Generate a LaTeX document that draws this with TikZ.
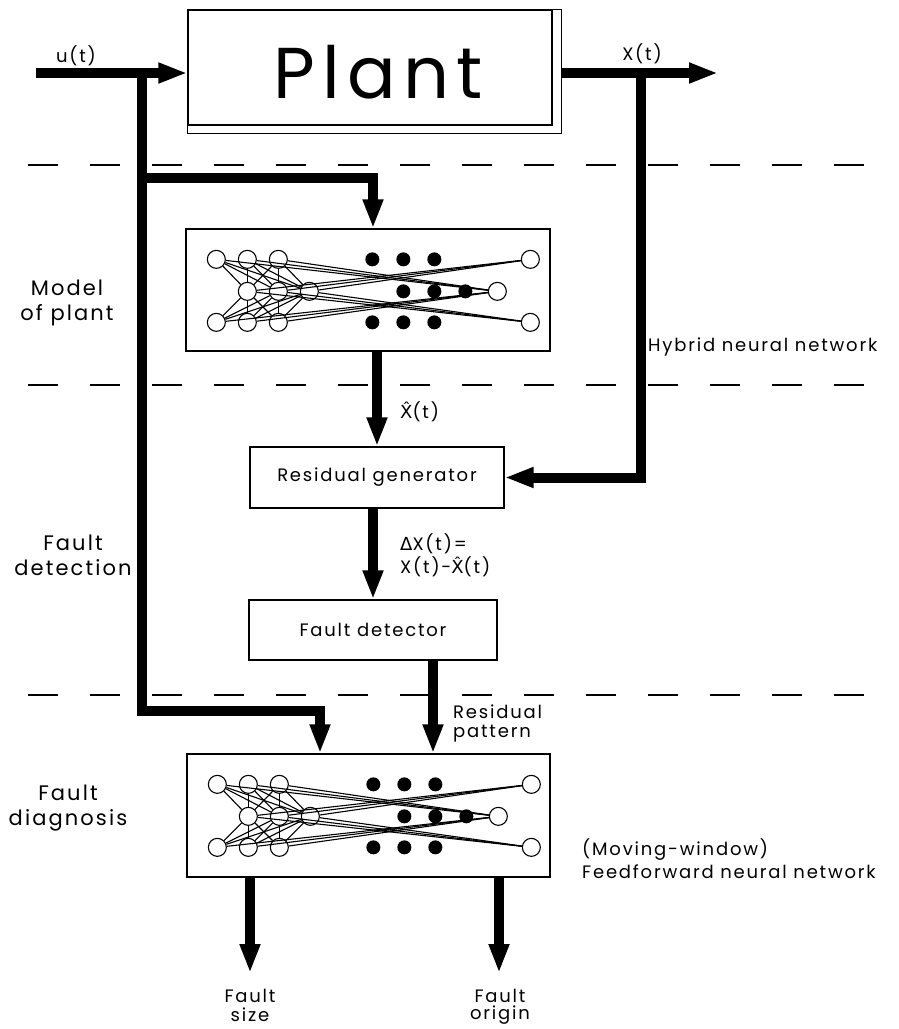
\documentclass[tikz,border=0pt]{standalone}
\usepackage{fontspec}
\setmainfont{Poppins}[LetterSpace=10]
\newfontfamily\greekfont{DejaVu Sans}
\usepackage{tikz}
\usetikzlibrary{
    arrows.meta,
    calc
}

\tikzset{
  flow/.style={line width=10pt,-{Triangle[length=29pt,width=19pt]}},
  block/.style={draw,line width=1.3pt,inner sep=0pt},
  sepline/.style={line width=1.4pt,dash pattern=on 30pt off 32pt},
  neuron/.style={circle,draw,line width=1.1pt,minimum size=18pt,inner sep=0pt},
  hidden/.style={circle,fill,minimum size=14pt,inner sep=0pt},
  wire/.style={line width=1.1pt},
  lbl/.style={inner sep=0pt},
  side/.style={font=\fontsize{21}{25}\selectfont,align=center,inner sep=0pt}
}

% one network drawn inside a box node
\newcommand{\drawnet}[1]{%
  \begin{scope}[shift={(#1.north west)}]
    \foreach \i/\x in {1/31,2/62,3/93} {
      \node[neuron] (#1t\i) at (\x,31) {};
      \node[neuron] (#1b\i) at (\x,94) {};
    }
    \foreach \i/\x in {1/62,2/93,3/124}
      \node[neuron] (#1m\i) at (\x,63) {};
    \foreach \i/\x in {1/187,2/218,3/249} {
      \node[hidden] (#1dt\i) at (\x,31) {};
      \node[hidden] (#1db\i) at (\x,94) {};
    }
    \foreach \i/\x in {1/218,2/249,3/280}
      \node[hidden] (#1dm\i) at (\x,63) {};
    \node[neuron] (#1rt) at (345,31) {};
    \node[neuron] (#1rm) at (312,63) {};
    \node[neuron] (#1rb) at (345,94) {};
    \foreach \i in {1,2,3} {
      \foreach \j in {1,2,3} {
        \draw[wire] (#1t\i) -- (#1m\j);
        \draw[wire] (#1b\i) -- (#1m\j);
      }
      \draw[wire] (#1t\i) -- (#1rm);
      \draw[wire] (#1b\i) -- (#1rm);
      \draw[wire] (#1m\i) -- (#1rt);
      \draw[wire] (#1m\i) -- (#1rb);
    }
  \end{scope}}

\begin{document}
\begin{tikzpicture}[x=1pt,y=-1pt,font=\fontsize{18}{21}\selectfont]
  \useasboundingbox (0,0) rectangle (899,1029);

  % Plant
  \node[block,minimum width=364pt,minimum height=115pt] (plant) at (370,67.5) {};
  \node[inner sep=0pt] (plantlbl) at (378,72) {\fontsize{72}{80}\selectfont Plant};
  \draw[block] (plant.north east) -- ++(9,0) |- ([yshift=-8pt]plant.south west)
    -- (plant.south west);

  % Blocks
  \node[block,minimum width=364pt,minimum height=122pt] (hnn) at (368,290) {};
  \node[block,minimum width=254pt,minimum height=61pt] (resgen) at (377,477.5) {Residual generator};
  \node[block,minimum width=248pt,minimum height=60pt] (fdet) at (373,630) {Fault detector};
  \node[block,minimum width=363pt,minimum height=123pt] (ffnn) at (368.5,815.5) {};
  \drawnet{hnn}
  \drawnet{ffnn}

  % Level separators
  \foreach \y in {165,385,695}
    \draw[sepline] (28,\y) -- (871,\y);

  % Input u(t)
  \coordinate (uin) at (36,73);
  \coordinate (ubr) at (142,73);
  \coordinate (umid) at (142,178);
  \coordinate (uhnn) at (373,178);
  \coordinate (ulow) at (320,711);
  \draw[flow] (uin) -- (uin -| plant.west);
  \draw[flow] (ubr) |- (ulow) -- (ulow |- ffnn.north);
  \draw[flow] (umid) -- (uhnn) -- (uhnn |- hnn.north);
  \node[lbl] (ulbl) at (76,56) {u(t)};

  % Output X(t)
  \coordinate (xst) at (561,73);
  \coordinate (xout) at (718,73);
  \coordinate (xbr) at (641,73);
  \draw[flow] (xst) -- (xout);
  \draw[flow] (xbr) |- (resgen.east);
  \node[lbl] (xlbl) at (642,54) {X(t)};

  % Residual chain
  \draw[flow] (hnn.south -| resgen.north) -- (resgen.north);
  \draw[flow] (resgen.south -| fdet.north) -- (fdet.north);
  \draw[flow] ([xshift=60pt]fdet.south) coordinate (rpat) -- (rpat |- ffnn.north);
  \node[lbl,anchor=west] (xhat) at (400,412) {{\greekfont X̂}(t)};
  \node[lbl,anchor=west] (dx1) at (400,544) {{\greekfont Δ}X(t)=};
  \node[lbl,anchor=west] (dx2) at (400,567) {X(t)-{\greekfont X̂}(t)};
  \node[lbl,anchor=west] (rp1) at (453,712) {Residual};
  \node[lbl,anchor=west] (rp2) at (453,734) {pattern};

  % Outputs of diagnosis
  \coordinate (fsize) at (250,973);
  \coordinate (forig) at (499,973);
  \draw[flow] (fsize |- ffnn.south) -- (fsize);
  \draw[flow] (forig |- ffnn.south) -- (forig);
  \node[lbl] (fs1) at (250,996) {Fault};
  \node[lbl] (fs2) at (250,1015) {size};
  \node[lbl] (fo1) at (500,996) {Fault};
  \node[lbl] (fo2) at (500,1015) {origin};

  % Network names
  \node[lbl,anchor=west] (hyb) at (648,347) {Hybrid neural network};
  \node[lbl,anchor=west] (mw) at (582,850) {(Moving-window)};
  \node[lbl,anchor=west] (ff) at (582,872) {Feedforward neural network};

  % Levels
  \node[side] (model) at (67,303) {Model\\of plant};
  \node[side] (fdetl) at (73,555) {Fault\\detection};
  \node[side] (fdiag) at (68,808) {Fault\\diagnosis};
\end{tikzpicture}
\end{document}
